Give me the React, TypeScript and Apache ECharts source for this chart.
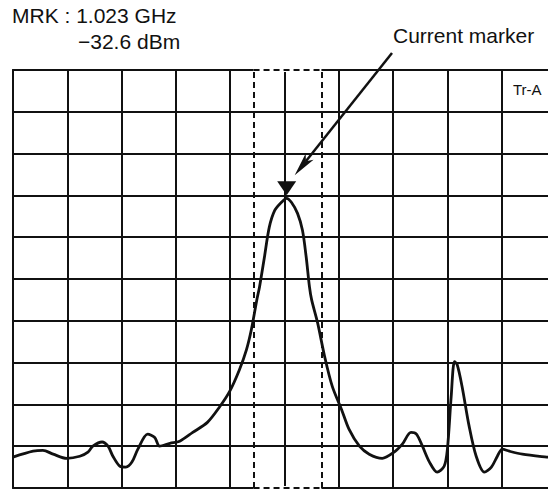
import React, { useEffect, useRef } from "react";
import * as echarts from "echarts";

// Trace (screen divisions: x 0..10, y 0..10 from bottom)
const traceX = [
  0.0, 0.37, 0.55, 0.74, 0.99, 1.23, 1.38, 1.47, 1.64, 1.75, 1.84, 1.97, 2.08, 2.19, 2.3, 2.48, 2.61, 2.7,
  2.89, 3.07, 3.31, 3.58, 3.81, 3.99, 4.17, 4.3, 4.39, 4.49, 4.54, 4.63, 4.72, 4.82, 4.94, 5.04, 5.13,
  5.24, 5.33, 5.4, 5.46, 5.5, 5.61, 5.74, 5.88, 6.05, 6.19, 6.38, 6.56, 6.8, 7.02, 7.17, 7.33, 7.43,
  7.54, 7.67, 7.81, 7.94, 8.0, 8.07, 8.13, 8.18, 8.27, 8.4, 8.53, 8.68, 8.81, 8.92, 9.01, 9.14, 9.38,
  9.83, 10.0,
];
const traceY = [
  0.74, 0.88, 0.9, 0.81, 0.71, 0.76, 0.86, 1.0, 1.1, 1.0, 0.76, 0.52, 0.5, 0.62, 0.93, 1.29, 1.21, 1.0,
  1.07, 1.12, 1.33, 1.57, 1.95, 2.31, 2.83, 3.31, 3.79, 4.5, 4.81, 5.52, 6.24, 6.64, 6.83, 6.93, 6.83,
  6.57, 6.17, 5.52, 4.81, 4.5, 3.95, 3.14, 2.43, 1.88, 1.4, 1.0, 0.81, 0.71, 0.86, 1.05, 1.33, 1.29,
  1.0, 0.62, 0.38, 0.52, 0.93, 2.19, 3.02, 2.95, 2.43, 1.48, 0.76, 0.38, 0.5, 0.76, 0.93, 0.88, 0.81,
  0.74, 0.72,
];
const markerPeak = [5.04, 6.93];
const windowEdges = [4.43, 5.68];
const markerTexts = ["MRK : 1.023 GHz", "\u221232.6 dBm"];
const annotationText = "Current marker";
const traceLabel = "Tr-A";

const FONT = "'Liberation Sans', Arial, Helvetica, sans-serif";

export default function App() {
  const ref = useRef<HTMLDivElement>(null);

  useEffect(() => {
    if (!ref.current) return;
    const chart = echarts.init(ref.current, undefined, { renderer: "svg" });
    const data = traceX.map((x, i) => [x, traceY[i]]);
    const ink = "#111";
    const axisCommon = {
      type: "value",
      min: 0,
      max: 10,
      interval: 1,
      axisTick: { show: false },
      axisLabel: { show: false },
    };
    chart.setOption({
      animation: false,
      backgroundColor: "#fff",
      grid: {
        left: 13,
        top: 70,
        width: 543,
        height: 418,
        show: false,
        containLabel: false,
        outerBoundsMode: "none",
      },
      xAxis: [
        {
          ...axisCommon,
          position: "bottom",
          axisLine: { show: true, lineStyle: { color: ink, width: 2 } },
          splitLine: { show: true, lineStyle: { color: ink, width: 2 } },
        },
        {
          ...axisCommon,
          position: "top",
          axisLine: { show: true, lineStyle: { color: ink, width: 2 } },
          splitLine: { show: false },
        },
      ],
      yAxis: {
        ...axisCommon,
        axisLine: { show: true, lineStyle: { color: ink, width: 2 } },
        splitLine: { show: true, lineStyle: { color: ink, width: 2 } },
      },
      series: [
        {
          type: "line",
          z: 3,
          silent: true,
          data: [],
          markLine: {
            silent: true,
            symbol: "none",
            label: { show: false },
            lineStyle: { color: "#fff", width: 4, type: "solid" },
            data: [
              [{ coord: [windowEdges[0], 10] }, { coord: [windowEdges[1], 10] }],
              [{ coord: [windowEdges[0], 0] }, { coord: [windowEdges[1], 0] }],
            ],
          },
        },
        {
          type: "line",
          z: 4,
          silent: true,
          data: [],
          markLine: {
            silent: true,
            symbol: "none",
            label: { show: false },
            lineStyle: { color: ink, width: 2, type: [6, 4] },
            data: [
              [{ coord: [windowEdges[0], 0] }, { coord: [windowEdges[0], 10] }],
              [{ coord: [windowEdges[1], 0] }, { coord: [windowEdges[1], 10] }],
              [{ coord: [windowEdges[0], 10] }, { coord: [windowEdges[1], 10] }],
              [{ coord: [windowEdges[0], 0] }, { coord: [windowEdges[1], 0] }],
            ],
          },
        },
        {
          type: "line",
          z: 5,
          data,
          smooth: 0.3,
          showSymbol: false,
          lineStyle: { color: ink, width: 2.8 },
          markPoint: {
            silent: true,
            symbol: "triangle",
            symbolRotate: 180,
            symbolSize: [19, 14],
            symbolOffset: [0, -10],
            itemStyle: { color: ink },
            label: { show: false },
            data: [{ coord: markerPeak }],
          },
        },
      ],
    });

    const p = chart.convertToPixel({ gridIndex: 0 }, markerPeak) as number[];
    const tip = [p[0] + 8, p[1] - 23];
    const start = [392, 53];
    const dx = tip[0] - start[0];
    const dy = tip[1] - start[1];
    const len = Math.sqrt(dx * dx + dy * dy);
    const ux = dx / len;
    const uy = dy / len;
    const nx = -uy;
    const ny = ux;
    const hl = 24;
    const hw = 5;
    const base = [tip[0] - ux * hl, tip[1] - uy * hl];
    const notch = [tip[0] - ux * (hl - 6), tip[1] - uy * (hl - 6)];

    chart.setOption({
      graphic: [
        {
          type: "text",
          left: 12,
          top: 5,
          style: { text: markerTexts[0], font: `21px ${FONT}`, fill: ink },
        },
        {
          type: "text",
          left: 78,
          top: 31,
          style: { text: markerTexts[1], font: `21px ${FONT}`, fill: ink },
        },
        {
          type: "text",
          left: 393,
          top: 25,
          style: { text: annotationText, font: `21px ${FONT}`, fill: ink },
        },
        {
          type: "text",
          left: 513,
          top: 82,
          style: { text: traceLabel, font: `15px ${FONT}`, fill: ink },
        },
        {
          type: "line",
          z: 10,
          shape: { x1: start[0], y1: start[1], x2: notch[0], y2: notch[1] },
          style: { stroke: ink, lineWidth: 2.5 },
        },
        {
          type: "polygon",
          z: 10,
          shape: {
            points: [
              tip,
              [base[0] + nx * hw, base[1] + ny * hw],
              notch,
              [base[0] - nx * hw, base[1] - ny * hw],
            ],
          },
          style: { fill: ink },
        },
      ],
    });

    return () => chart.dispose();
  }, []);

  return (
    <div
      ref={ref}
      style={{ position: "absolute", left: 0, top: 0, width: 548, height: 489, overflow: "hidden" }}
    />
  );
}
